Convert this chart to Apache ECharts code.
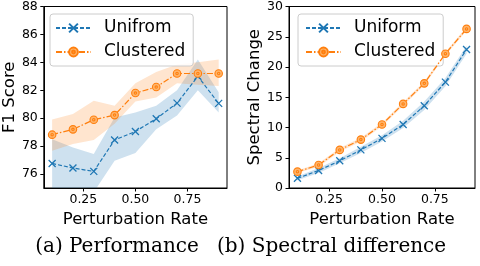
<!DOCTYPE html>
<html>
<head>
<meta charset="utf-8">
<script src="https://cdn.jsdelivr.net/npm/echarts@6/dist/echarts.min.js"></script>
<style>html,body{margin:0;padding:0;background:#fff}#c{width:480px;height:266px}</style>
</head>
<body>
<div id="c"></div>
<script>
// ---- data ----
const rates = [0.1, 0.2, 0.3, 0.4, 0.5, 0.6, 0.7, 0.8, 0.9];
const xTicks = [0.25, 0.5, 0.75];
const f1Ticks = [76, 78, 80, 82, 84, 86, 88];
const specTicks = [0, 5, 10, 15, 20, 25, 30];

// (a) Performance
const f1Uniform      = [76.76, 76.43, 76.19, 78.44, 79.05, 79.96, 81.08, 83.0, 81.06];
const f1UniformLow   = [74.3, 74.5, 74.7, 76.95, 77.5, 79.2, 80.2, 82.0, 80.4];
const f1UniformHigh  = [78.5, 77.9, 77.43, 80.05, 80.41, 80.9, 82.0, 84.2, 81.85];
const f1Cluster      = [78.82, 79.2, 79.89, 80.22, 81.8, 82.23, 83.2, 83.2, 83.2];
const f1ClusterLow   = [77.67, 78.15, 78.44, 79.6, 81.2, 81.49, 82.5, 82.4, 82.3];
const f1ClusterHigh  = [79.9, 80.3, 81.25, 80.9, 82.5, 83.3, 83.85, 84.0, 84.2];

// (b) Spectral difference
const spUniform      = [1.6, 2.9, 4.5, 6.3, 8.2, 10.5, 13.6, 17.5, 22.9];
const spUniformLow   = [1.3, 2.5, 4.1, 5.8, 7.7, 9.9, 12.9, 16.8, 22.2];
const spUniformHigh  = [1.9, 3.3, 4.9, 6.8, 8.7, 11.1, 14.3, 18.2, 23.5];
const spCluster      = [2.7, 3.8, 6.3, 8.0, 10.5, 13.9, 17.3, 22.2, 26.3];
const spClusterLow   = [2.5, 3.5, 6.0, 7.7, 10.2, 13.6, 17.0, 21.9, 26.0];
const spClusterHigh  = [2.9, 4.1, 6.6, 8.3, 10.8, 14.2, 17.6, 22.5, 26.6];

// ---- styling ----
const BLUE = '#1f77b4', ORANGE = '#ff7f0e';
const FONT = 'DejaVu Sans';
const xSym = 'path://M0,0L10,10M10,0L0,10';
const oSym = 'path://M10,5A5,5,0,1,1,0,5A5,5,0,1,1,10,5ZM6.6,5A1.6,1.6,0,1,1,3.4,5A1.6,1.6,0,1,1,6.6,5Z';

const pairs = (ys) => rates.map((x, i) => [x, ys[i]]);

function band(idx, lo, hi, color) {
  return {
    type: 'custom', xAxisIndex: idx, yAxisIndex: idx, silent: true, clip: true, z: 1,
    data: rates.map((x, i) => [x, lo[i], hi[i]]),
    encode: { x: 0, y: [1, 2] },
    renderItem: function (params, api) {
      if (params.dataIndex !== 0) return null;
      const top = rates.map((x, i) => api.coord([x, hi[i]]));
      const bot = rates.map((x, i) => api.coord([x, lo[i]])).reverse();
      return { type: 'polygon', shape: { points: top.concat(bot) },
        style: { fill: color, stroke: 'none' } };
    }
  };
}
function uLine(idx, name, ys) {
  return { type: 'line', name: name, xAxisIndex: idx, yAxisIndex: idx, data: pairs(ys),
    symbol: xSym, symbolSize: 7, symbolKeepAspect: true,
    itemStyle: { color: BLUE, borderColor: BLUE, borderWidth: 1.3 },
    lineStyle: { color: BLUE, width: 1.2, type: [4, 2] }, z: 3 };
}
function cLine(idx, name, ys) {
  return { type: 'line', name: name, xAxisIndex: idx, yAxisIndex: idx, data: pairs(ys),
    symbol: oSym, symbolSize: 7.5, symbolKeepAspect: true,
    itemStyle: { color: '#ffb56b', borderColor: ORANGE, borderWidth: 1.1 },
    lineStyle: { color: ORANGE, width: 1.2, type: [6, 2, 1.5, 2] }, z: 4 };
}
function xAx(idx) {
  return { type: 'value', gridIndex: idx, min: 0.06, max: 0.94,
    name: 'Perturbation Rate', nameLocation: 'middle', nameGap: 17,
    nameTextStyle: { fontFamily: FONT, fontSize: 16.5, color: '#000' },
    axisLine: { show: true, onZero: false, lineStyle: { color: '#000', width: 1 } },
    axisTick: { show: true, length: 3.5, customValues: xTicks, lineStyle: { color: '#000' } },
    axisLabel: { customValues: xTicks, formatter: v => v.toFixed(2), margin: 5,
      fontFamily: FONT, fontSize: 12.5, color: '#000' },
    splitLine: { show: false } };
}
function yAx(idx, min, max, ticks, name, gap) {
  return { type: 'value', gridIndex: idx, min: min, max: max,
    name: name, nameLocation: 'middle', nameGap: gap, nameRotate: 90,
    nameTextStyle: { fontFamily: FONT, fontSize: 16.5, color: '#000' },
    axisLine: { show: true, lineStyle: { color: '#000', width: 1 } },
    axisTick: { show: true, length: 3.5, customValues: ticks, lineStyle: { color: '#000' } },
    axisLabel: { customValues: ticks, margin: 6, fontFamily: FONT, fontSize: 12.5, color: '#000' },
    splitLine: { show: false } };
}
function legend(left, padLeft, names) {
  return { left: left, top: 14, orient: 'vertical', data: names,
    itemWidth: 35, itemHeight: 11, itemGap: 6,
    padding: [5, 8, 5, padLeft],
    backgroundColor: 'rgba(255,255,255,0.85)', borderColor: '#cccccc', borderWidth: 1, borderRadius: 3,
    textStyle: { fontFamily: FONT, fontSize: 17, color: '#000', lineHeight: 18, padding: [0, 0, 0, 8] } };
}

const option = {
  animation: false,
  grid: [
    { left: 41, top: 6, width: 186, height: 182, show: true, borderColor: '#000', borderWidth: 1 },
    { left: 289, top: 6, width: 186, height: 182, show: true, borderColor: '#000', borderWidth: 1 }
  ],
  xAxis: [xAx(0), xAx(1)],
  yAxis: [yAx(0, 75, 88, f1Ticks, 'F1 Score', 20), yAx(1, 0, 30, specTicks, 'Spectral Change', 25)],
  legend: [legend(50, 5, ['Unifrom', 'Clustered']), legend(298, 7, ['Uniform', 'Clustered'])],
  series: [
    band(0, f1UniformLow, f1UniformHigh, 'rgba(31,119,180,0.22)'),
    band(0, f1ClusterLow, f1ClusterHigh, 'rgba(255,127,14,0.2)'),
    uLine(0, 'Unifrom', f1Uniform),
    cLine(0, 'Clustered', f1Cluster),
    band(1, spUniformLow, spUniformHigh, 'rgba(31,119,180,0.22)'),
    band(1, spClusterLow, spClusterHigh, 'rgba(255,127,14,0.2)'),
    uLine(1, 'Uniform', spUniform),
    cLine(1, 'Clustered', spCluster)
  ],
  graphic: [
    { type: 'text', x: 117, y: 247, style: { text: '(a) Performance', fontFamily: 'DejaVu Serif',
      fontSize: 20, fill: '#000', align: 'center', verticalAlign: 'middle' } },
    { type: 'text', x: 217, y: 247, style: { text: '(b) Spectral difference', fontFamily: 'DejaVu Serif',
      fontSize: 20, fill: '#000', align: 'left', verticalAlign: 'middle' } }
  ]
};
const chart = echarts.init(document.getElementById('c'), null, { renderer: 'canvas' });
chart.setOption(option);
</script>
</body>
</html>
